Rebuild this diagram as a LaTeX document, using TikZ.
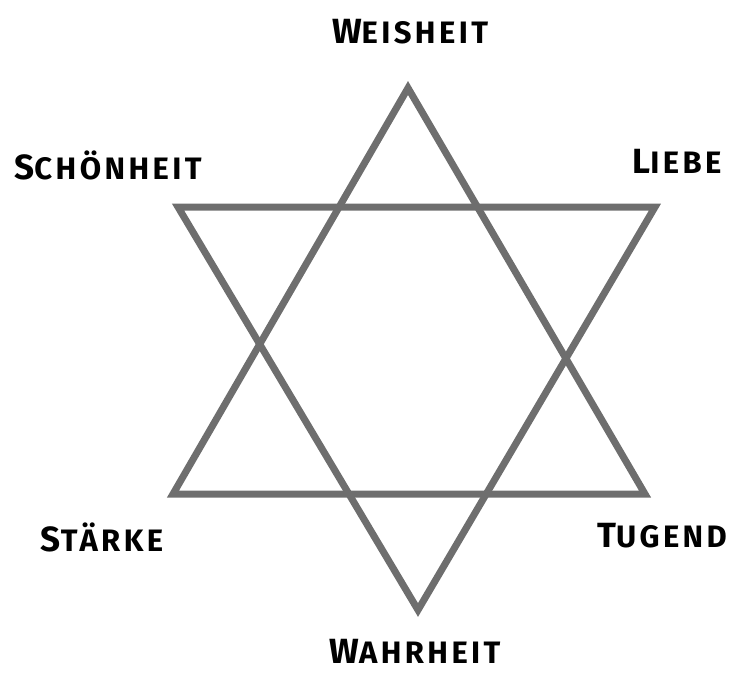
\documentclass[tikz,border=0pt]{standalone}
\usepackage{fontspec}
\setmainfont{Fira Sans}
\newfontfamily\wordfont[LetterSpace=11]{Fira Sans}
\usepackage{tikz}
\usetikzlibrary{positioning}
\definecolor{stargray}{RGB}{110,110,110}
\newcommand{\lbl}[2]{{\fontsize{35}{35}\selectfont #1}{\fontsize{31}{31}\selectfont #2}}

\begin{document}
\begin{tikzpicture}[x=1pt,y=-1pt,
  edge/.style={draw=stargray,line width=7pt,line join=miter},
  word/.style={font=\wordfont\bfseries,text=black,inner sep=0pt}]
\useasboundingbox (0,0) rectangle (744,675);
% upward triangle
\coordinate (up) at (408,88);
\coordinate (ul) at (173,494);
\coordinate (ur) at (645,494);
% downward triangle
\coordinate (dl) at (178,207);
\coordinate (dr) at (655,207);
\coordinate (dn) at (418,610);
\draw[edge] (up)--(ur)--(ul)--cycle;
\draw[edge] (dl)--(dr)--(dn)--cycle;
% labels
\node[word] (weis) at (410,32) {\lbl{W}{EISHEIT}};
\node[word] (schoen) at (108,165) {\lbl{S}{CHÖNHEIT}};
\node[word] (liebe) at (677,161) {\lbl{L}{IEBE}};
\node[word] (staerke) at (102,537) {\lbl{S}{TÄRKE}};
\node[word] (tugend) at (662,536) {\lbl{T}{UGEND}};
\node[word] (wahr) at (415,651) {\lbl{W}{AHRHEIT}};
\end{tikzpicture}
\end{document}
